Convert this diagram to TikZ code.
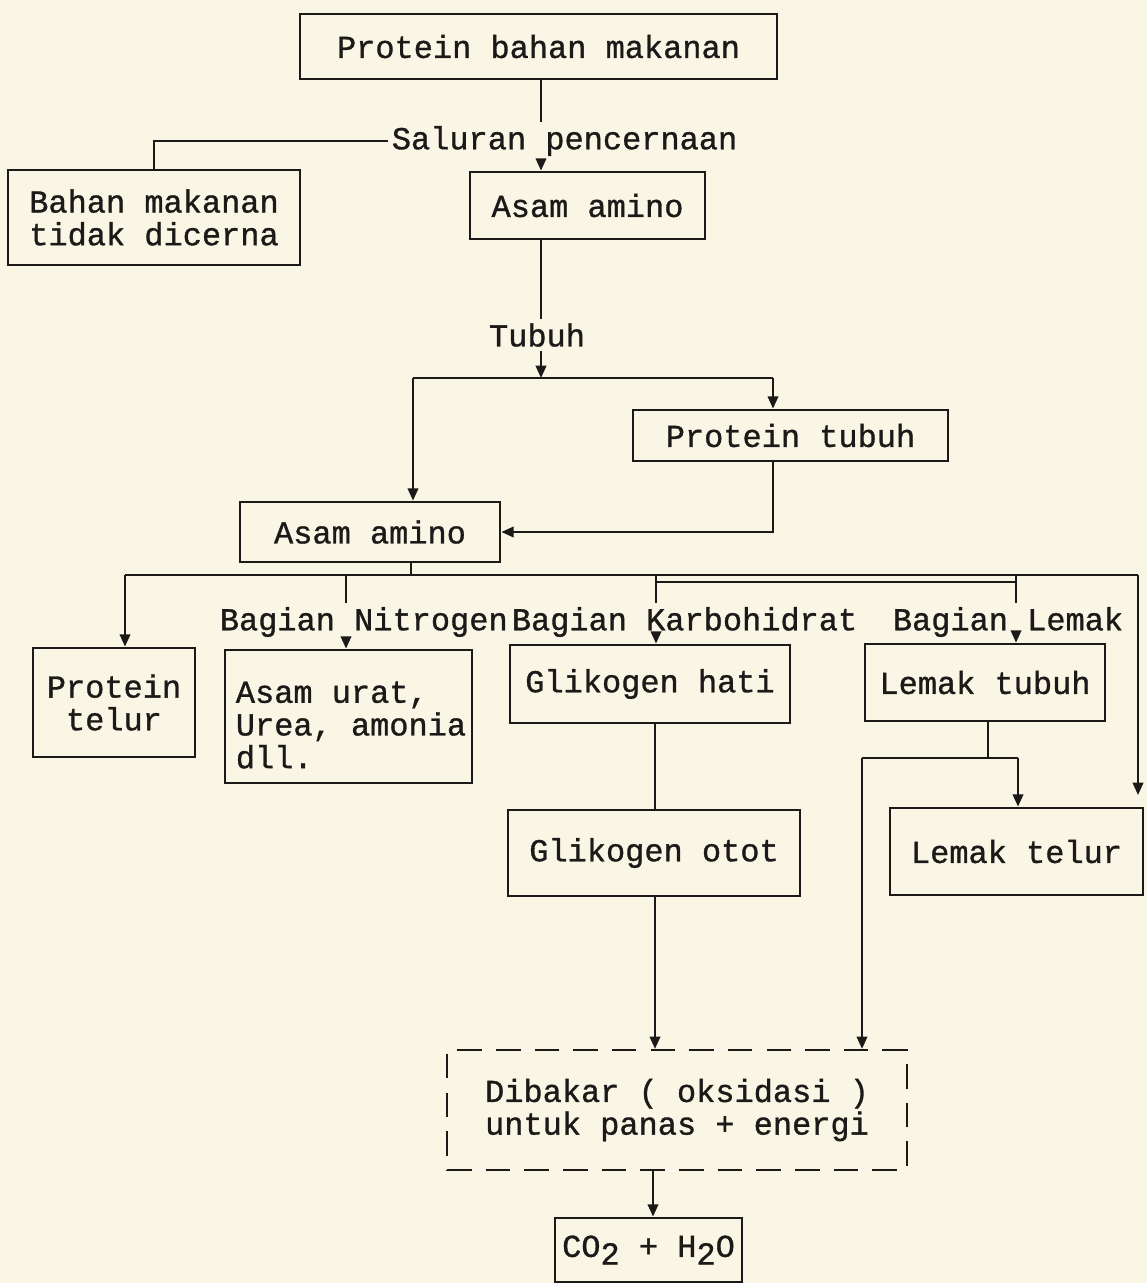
\documentclass[tikz,border=0pt]{standalone}
\usepackage{fontspec}
\setmonofont[FakeBold=1.0]{Liberation Mono}
\usetikzlibrary{arrows.meta}
\definecolor{paper}{RGB}{250,246,230}
\definecolor{ink}{RGB}{28,26,24}
\begin{document}
\begin{tikzpicture}[x=0.02cm,y=-0.02cm,
  every node/.style={font=\ttfamily\fontsize{18.2}{18.6}\selectfont,text=ink},
  box/.style={draw=ink,line width=1.6pt,inner sep=0pt,align=center},
  dbox/.style={draw=ink,line width=1.3pt,inner sep=0pt,align=center,dash pattern=on 14pt off 8pt},
  lbl/.style={inner sep=2pt},
  conn/.style={draw=ink,line width=1.2pt},
  arr/.style={conn,-{Triangle[length=7pt,width=6pt]}}]
\fill[paper] (0,0) rectangle (1147,1283);
\useasboundingbox (0,0) rectangle (1147,1283);

% boxes
\node[box,minimum width=9.54cm,minimum height=1.30cm] (top) at (538.5,46.5) {Protein bahan makanan};
\node[box,minimum width=5.84cm,minimum height=1.90cm] (bahan) at (154,217.5) {Bahan makanan\\tidak dicerna};
\node[box,minimum width=4.70cm,minimum height=1.34cm] (aa1) at (587.5,205.5) {Asam amino};
\node[box,minimum width=6.30cm,minimum height=1.02cm] (pt) at (790.5,435.5) {Protein tubuh};
\node[box,minimum width=5.20cm,minimum height=1.20cm] (aa2) at (370,532) {Asam amino};
\node[box,minimum width=3.24cm,minimum height=2.18cm] (ptelur) at (114,702.5) {Protein\\telur};
\node[box,minimum width=4.94cm,minimum height=2.66cm] (urat) at (348.5,716.5) {};
\node[align=left,inner sep=0pt] (uratt) at (351,725) {Asam urat,\\Urea, amonia\\dll.};
\node[box,minimum width=5.60cm,minimum height=1.56cm] (ghati) at (650,684) {Glikogen hati};
\node[box,minimum width=4.80cm,minimum height=1.54cm] (ltubuh) at (985,682.5) {Lemak tubuh};
\node[box,minimum width=5.84cm,minimum height=1.72cm] (gotot) at (654,853) {Glikogen otot};
\node[box,minimum width=5.06cm,minimum height=1.74cm] (ltelur) at (1016.5,851.5) {Lemak telur};
\node[dbox,minimum width=9.20cm,minimum height=2.40cm] (dash) at (677,1110) {Dibakar ( oksidasi )\\untuk panas + energi};
\node[box,minimum width=3.74cm,minimum height=1.28cm] (co2) at (648.5,1250) {CO\raisebox{-0.45ex}{2} + H\raisebox{-0.45ex}{2}O};

% labels
\node[lbl,anchor=west] (sal) at (388,141) {Saluran pencernaan};
\node[lbl] (tub) at (537,335) {Tubuh};
\node[lbl,anchor=west] (bagN) at (216,622) {Bagian Nitrogen};
\node[lbl,anchor=west] (bagK) at (508,622) {Bagian Karbohidrat};
\node[lbl,anchor=west] (bagL) at (889,622) {Bagian Lemak};

% coordinates
\coordinate (x1) at (541,0);
\coordinate (tb) at (541,378);
\coordinate (tbL) at (413,378);
\coordinate (tbR) at (773,378);
\coordinate (b0) at (411,575);
\coordinate (bL) at (125,575);
\coordinate (bR) at (1138,575);
\coordinate (bN) at (346,575);
\coordinate (bK) at (656,575);
\coordinate (bK2) at (656,582);
\coordinate (bF) at (1016,575);
\coordinate (bF2) at (1016,582);
\coordinate (rEnd) at (1138,795);
\coordinate (xg) at (655,0);
\coordinate (l1) at (988,758);
\coordinate (l2) at (862,758);
\coordinate (l3) at (1018,758);
\coordinate (xd) at (653,0);

% connectors
\draw[conn] (x1 |- top.south) -- (x1 |- sal.north);
\draw[arr] (x1 |- sal.south) -- (x1 |- aa1.north);
\draw[conn] (sal.west) -| (bahan.north);
\draw[conn] (x1 |- aa1.south) -- (x1 |- tub.north);
\draw[arr] (x1 |- tub.south) -- (tb);
\draw[conn] (tbL) -- (tbR);
\draw[arr] (tbL) -- (tbL |- aa2.north);
\draw[arr] (tbR) -- (tbR |- pt.north);
\draw[arr] (tbR |- pt.south) |- (aa2.east);
\draw[conn] (b0 |- aa2.south) -- (b0);
\draw[conn] (bL) -- (bR);
\draw[arr] (bL) -- (bL |- ptelur.north);
\draw[conn] (bN) -- (bN |- bagN.north);
\draw[arr] (bN |- bagN.south) -- (bN |- urat.north);
\draw[conn] (bF) -- (bF2) -- (bK2);
\draw[conn] (bK) -- (bK |- bagK.north);
\draw[arr] (bK |- bagK.south) -- (bK |- ghati.north);
\draw[conn] (bF2) -- (bF |- bagL.north);
\draw[arr] (bF |- bagL.south) -- (bF |- ltubuh.north);
\draw[arr] (bR) -- (rEnd);
\draw[conn] (xg |- ghati.south) -- (xg |- gotot.north);
\draw[arr] (xg |- gotot.south) -- (xg |- dash.north);
\draw[conn] (l1 |- ltubuh.south) -- (l1);
\draw[conn] (l2) -- (l3);
\draw[arr] (l3) -- (l3 |- ltelur.north);
\draw[arr] (l2) -- (l2 |- dash.north);
\draw[arr] (xd |- dash.south) -- (xd |- co2.north);
\end{tikzpicture}
\end{document}
